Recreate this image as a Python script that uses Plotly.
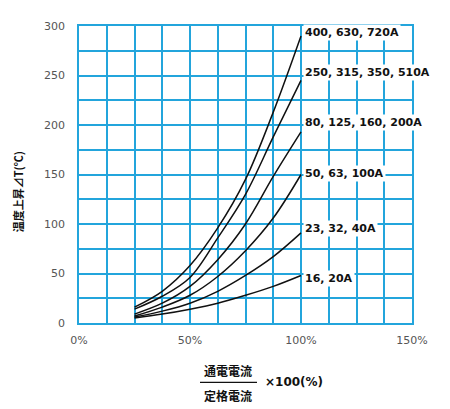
import plotly.graph_objects as go

# ratio of current to rated current (%)
ratio = [25, 37.5, 50, 62.5, 75, 87.5, 100]

# temperature rise (deg C)
rise_400_720 = [16, 32, 58, 96, 145, 213, 290]
rise_250_510 = [14, 27, 46, 86, 130, 188, 245]
rise_80_200 = [9, 20, 37, 64, 100, 148, 193]
rise_50_100 = [7, 16, 28, 47, 73, 106, 150]
rise_23_40 = [6, 12, 20, 32, 48, 67, 91]
rise_16_20 = [5, 9, 14, 20, 28, 37, 48]

series = [
    ("400, 630, 720A", rise_400_720, 293),
    ("250, 315, 350, 510A", rise_250_510, 253),
    ("80, 125, 160, 200A", rise_80_200, 203),
    ("50, 63, 100A", rise_50_100, 151),
    ("23, 32, 40A", rise_23_40, 95),
    ("16, 20A", rise_16_20, 45),
]

GRID = "#23a5dc"
OFF = 8  # page margin of the html body
W, H = 450 - OFF, 409 - OFF
L, R, T, B = 79 - OFF, 38, 23 - OFF, 86

fig = go.Figure()
for name, ys, label_y in series:
    fig.add_trace(go.Scatter(x=ratio, y=ys, mode="lines", name=name,
                             line=dict(color="#111111", width=1.5, shape="spline"),
                             showlegend=False))
    fig.add_annotation(x=100, y=label_y, text=name, showarrow=False,
                       xanchor="left", yanchor="middle", xshift=2, bgcolor="white",
                       font=dict(family="DejaVu Sans", size=11, color="#111111", weight="bold"))

def px_x(p):
    # screen pixel -> paper coordinate
    return (p - OFF - L) / (W - L - R)

def px_y(p):
    return (H - B - (p - OFF)) / (H - T - B)

# y title
fig.add_annotation(xref="paper", yref="paper", x=px_x(18), y=px_y(191),
                   xanchor="center", yanchor="middle",
                   text="温度上昇⊿T(℃)", textangle=-90, showarrow=False,
                   font=dict(family="Noto Sans CJK JP", size=11, color="#111111", weight="bold"))

# x title as fraction
frac_font = dict(family="Noto Sans CJK JP", size=12, color="#111111", weight="bold")
fig.add_annotation(xref="paper", yref="paper", x=px_x(228), y=px_y(371),
                   xanchor="center", yanchor="middle",
                   text="通電電流", showarrow=False, font=frac_font)
fig.add_annotation(xref="paper", yref="paper", x=px_x(228), y=px_y(396),
                   xanchor="center", yanchor="middle",
                   text="定格電流", showarrow=False, font=frac_font)
fig.add_shape(type="line", xref="paper", yref="paper",
              x0=px_x(200), x1=px_x(257), y0=px_y(383), y1=px_y(383),
              line=dict(color="#111111", width=1.2))
fig.add_annotation(xref="paper", yref="paper", x=px_x(263), y=px_y(383),
                   xanchor="left", yanchor="middle",
                   text="×100(%)", showarrow=False,
                   font=dict(family="DejaVu Sans", size=12, color="#111111", weight="bold"))

tick_font = dict(family="DejaVu Sans", size=11, color="#555555")
fig.update_xaxes(range=[0, 150], dtick=50, ticksuffix="%", showgrid=True,
                 gridcolor=GRID, gridwidth=1.6, zeroline=False,
                 showline=True, linecolor=GRID, linewidth=1.6, mirror=True,
                 minor=dict(dtick=12.5, showgrid=True, gridcolor=GRID, gridwidth=1.6),
                 ticks="outside", ticklen=6, tickcolor="rgba(0,0,0,0)",
                 tickfont=tick_font)
fig.update_yaxes(range=[0, 300], dtick=50, showgrid=True,
                 gridcolor=GRID, gridwidth=1.6, zeroline=False,
                 showline=True, linecolor=GRID, linewidth=1.6, mirror=True,
                 minor=dict(dtick=25, showgrid=True, gridcolor=GRID, gridwidth=1.6),
                 ticks="outside", ticklen=10, tickcolor="rgba(0,0,0,0)",
                 tickfont=tick_font)

fig.update_layout(width=W, height=H, margin=dict(l=L, r=R, t=T, b=B),
                  plot_bgcolor="white", paper_bgcolor="white")

fig.write_html("out.html")
